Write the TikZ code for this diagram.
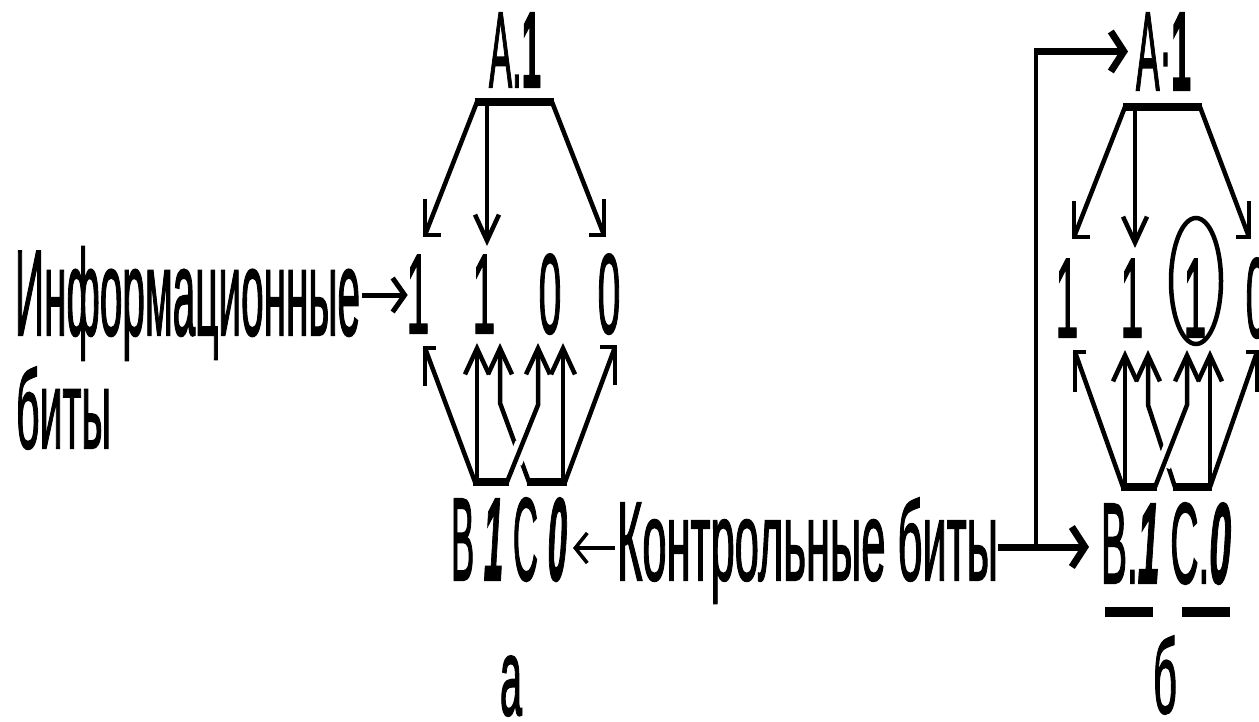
\documentclass[tikz,border=0pt]{standalone}
\usepackage{fontspec}
\setmainfont{Liberation Sans}[FakeBold=2]
\usetikzlibrary{arrows.meta,calc}
% text squeezed into a given width and height (1 unit = 1pt)
\newcommand\fitbox[3]{\resizebox{#1pt}{#2pt}{#3}}
\newcommand\bi[1]{\textbf{\textit{#1}}}
% condensed digit
\newcommand\dg[1]{\scalebox{0.36}[1]{\fontsize{113pt}{113pt}\selectfont #1}}
% L-shaped arrow head at a corner: vertical barb, then horizontal barb
\newcommand\lhead[3]{\draw[wire] ($(#1)+(0,#2)$) -- (#1) -- ($(#1)+(#3,0)$);}

\tikzset{
  lbl/.style={inner sep=0pt,outer sep=0pt,anchor=base west},
  digit/.style={inner sep=0pt,outer sep=0pt,anchor=base},
  wire/.style={line width=4.5pt,line join=miter},
  thickbar/.style={line width=8pt},
  barbtip/.style={-{Straight Barb[length=26pt,width=24pt]}},
  smalltip/.style={-{Straight Barb[length=13pt,width=40pt]}},
  halo/.style={draw=white,line width=15pt},
}

\begin{document}
\begin{tikzpicture}[x=1pt,y=-1pt]
\useasboundingbox (0,0) rectangle (1259,721);
\clip (0,0) rectangle (1259,721);

% ---------- labels ----------
\node[lbl] (inf)  at (15,335)   {\fitbox{345}{88}{Информационные}};
\node[lbl] (inf2) at (16,448)   {\fitbox{95}{81}{биты}};
\node[lbl] (hA)   at (489,87)   {\fitbox{52}{74}{A.\textbf{1}}};
\node[lbl] (bca)  at (451,580)  {\fitbox{116}{82}{B \bi{1} C \bi{0}}};
\node[lbl] (kb)   at (617,580)  {\fitbox{381}{82}{Контрольные биты}};
\node[lbl] (hB)   at (1136,90)  {\fitbox{55}{77}{A·\textbf{1}}};
\node[lbl] (bcb)  at (1101,583) {\fitbox{130}{80}{B.\bi{1} C.\bi{0}}};
\node[lbl] (capa) at (500,715)  {\fitbox{22}{59}{а}};
\node[lbl] (capb) at (1153,713) {\fitbox{24}{77}{б}};

% ---------- diagram a: bits ----------
\node[digit] (a1) at (418,333) {\dg{1}};
\node[digit] (a2) at (484,333) {\dg{1}};
\node[digit] (a3) at (550,333) {\dg{0}};
\node[digit] (a4) at (609,333) {\dg{0}};

% check bit A fans out to bits 1, 2, 4
\coordinate (aTl) at (477,102);
\coordinate (aTm) at (487,102);
\coordinate (aTr) at (552,102);
\coordinate (aTipL) at (425,235);
\coordinate (aTipM) at (487,246);
\coordinate (aTipR) at (604,235);
\draw[thickbar] ($(aTl)+(-2,0)$) -- ($(aTr)+(2,0)$);
\draw[wire] (aTl) -- (aTipL); \lhead{aTipL}{-36}{16}
\draw[wire,barbtip] (aTm) -- (aTipM);
\draw[wire] (aTr) -- (aTipR); \lhead{aTipR}{-36}{-15}

% check bits B and C
\coordinate (aB1) at (475,482);
\coordinate (aB2) at (507,482);
\coordinate (aC1) at (529,482);
\coordinate (aC2) at (565,482);
\coordinate (aBk) at (538,405);
\coordinate (aCk) at (500,403);
\coordinate (aUL) at (425,348);
\coordinate (aUR) at (615,347);
\coordinate (aU2a) at (477,343);
\coordinate (aU2b) at (500,343);
\coordinate (aU3a) at (538,343);
\coordinate (aU3b) at (563,343);
\draw[thickbar] ($(aB1)+(-2,0)$) -- ($(aB2)+(2,0)$);
\draw[thickbar] ($(aC1)+(-2,0)$) -- ($(aC2)+(2,0)$);
\draw[wire] (aB1) -- (aUL); \lhead{aUL}{38}{11}
\draw[wire,barbtip] (aB1 -| aU2a) -- (aU2a);
\draw[wire,barbtip] (aC1) -- (aCk) -- (aU2b);
\draw[halo] ($(aB2)!0.25!(aBk)$) -- ($(aB2)!0.5!(aBk)$);
\draw[wire,barbtip] (aB2) -- (aBk) -- (aU3a);
\draw[wire,barbtip] (aC2 -| aU3b) -- (aU3b);
\draw[wire] (aC2) -- (aUR); \lhead{aUR}{38}{-15}

% ---------- diagram b: bits ----------
\node[digit] (b1) at (1067,337) {\dg{1}};
\node[digit] (b2) at (1132,337) {\dg{1}};
\node[digit] (b3) at (1195,337) {\dg{1}};
\node[digit] (b4) at (1257,337) {\dg{0}};
\draw[line width=4.5pt] ($(b3.base)+(1,-56)$) ellipse [x radius=25pt, y radius=63pt];

\coordinate (bTl) at (1125,107);
\coordinate (bTm) at (1135,107);
\coordinate (bTr) at (1200,107);
\coordinate (bTipL) at (1074,237);
\coordinate (bTipM) at (1135,248);
\coordinate (bTipR) at (1249,237);
\draw[thickbar] ($(bTl)+(-2,0)$) -- ($(bTr)+(2,0)$);
\draw[wire] (bTl) -- (bTipL); \lhead{bTipL}{-36}{16}
\draw[wire,barbtip] (bTm) -- (bTipM);
\draw[wire] (bTr) -- (bTipR); \lhead{bTipR}{-36}{-13}

\coordinate (bB1) at (1123,487);
\coordinate (bB2) at (1155,487);
\coordinate (bC1) at (1175,487);
\coordinate (bC2) at (1210,487);
\coordinate (bBk) at (1187,405);
\coordinate (bCk) at (1148,405);
\coordinate (bUL) at (1075,352);
\coordinate (bUR) at (1257,352);
\coordinate (bU2a) at (1125,350);
\coordinate (bU2b) at (1148,350);
\coordinate (bU3a) at (1187,350);
\coordinate (bU3b) at (1210,350);
\draw[thickbar] ($(bB1)+(-2,0)$) -- ($(bB2)+(2,0)$);
\draw[thickbar] ($(bC1)+(-2,0)$) -- ($(bC2)+(2,0)$);
\draw[wire] (bB1) -- (bUL); \lhead{bUL}{40}{11}
\draw[wire,barbtip] (bB1 -| bU2a) -- (bU2a);
\draw[wire,barbtip] (bC1) -- (bCk) -- (bU2b);
\draw[halo] ($(bB2)!0.25!(bBk)$) -- ($(bB2)!0.5!(bBk)$);
\draw[wire,barbtip] (bB2) -- (bBk) -- (bU3a);
\draw[wire,barbtip] (bC2 -| bU3b) -- (bU3b);
\draw[wire] (bC2) -- (bUR); \lhead{bUR}{40}{-11}

% underlined corrected check bits
\draw[line width=10pt] (1105,612) -- (1153,612);
\draw[line width=10pt] (1182,612) -- (1230,612);

% ---------- label arrows ----------
\draw[line width=5pt,-{Straight Barb[length=12pt,width=34pt]}]
  ($(inf.base east)+(2,-40)$) -- ($(a1.base west)+(1,-38)$);
\draw[line width=3.5pt,-{Straight Barb[length=12pt,width=30pt]}]
  ($(kb.base west)+(-2,-32)$) -- ($(bca.base east)+(6,-32)$);
\coordinate (kbj) at ($(kb.base east)+(38,-33)$);
\draw[line width=7pt,smalltip]
  ($(kb.base east)+(0,-33)$) -- ($(bcb.base west)+(-12,-36)$);
\draw[line width=4pt] (kbj) -- (kbj |- hB.west);
\draw[line width=7pt,smalltip,shorten >=8pt] ($(kbj |- hB.west)+(-2,0)$) -- (hB.west);
\end{tikzpicture}
\end{document}
